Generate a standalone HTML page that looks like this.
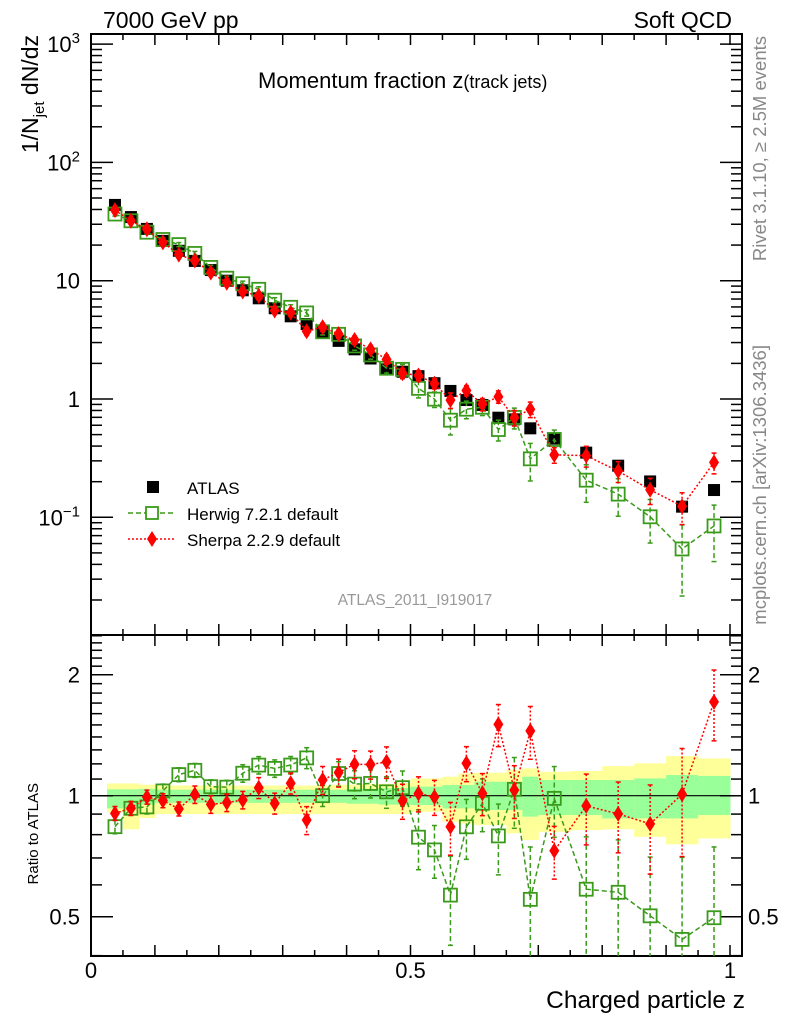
<!DOCTYPE html>
<html><head><meta charset="utf-8"><style>
body{margin:0;background:#fff}
svg text{font-family:"Liberation Sans",Arial,sans-serif}
</style></head><body>
<svg id="c" width="786" height="1024" viewBox="0 0 786 1024" xmlns="http://www.w3.org/2000/svg"></svg>
<script>
const zCenters=[0.0375,0.0625,0.0875,0.1125,0.1375,0.1625,0.1875,0.2125,0.2375,0.2625,0.2875,0.3125,0.3375,0.3625,0.3875,0.4125,0.4375,0.4625,0.4875,0.5125,0.5375,0.5625,0.5875,0.6125,0.6375,0.6625,0.6875,0.725,0.775,0.825,0.875,0.925,0.975];
const zEdges=[0.025,0.05,0.075,0.1,0.125,0.15,0.175,0.2,0.225,0.25,0.275,0.3,0.325,0.35,0.375,0.4,0.425,0.45,0.475,0.5,0.525,0.55,0.575,0.6,0.625,0.65,0.675,0.7,0.75,0.8,0.85,0.9,0.95,1.0];
const atlasVals=[43.7,34.5,27.4,21.7,17.9,14.7,12.3,10.0,8.3,7.1,5.85,5.0,4.3,3.7,3.1,2.63,2.2,1.78,1.70,1.56,1.36,1.17,0.98,0.89,0.695,0.673,0.565,0.462,0.352,0.273,0.201,0.123,0.170];
const herwigVals=[36.6,32.1,25.7,22.3,20.2,17.0,12.95,10.5,9.44,8.46,6.84,5.96,5.34,3.70,3.52,2.81,2.36,1.82,1.78,1.23,0.997,0.662,0.820,0.852,0.552,0.698,0.312,0.455,0.206,0.157,0.101,0.054,0.0845];
const sherpaVals=[39.5,32.1,27.2,21.1,16.6,14.8,11.7,9.61,8.10,7.43,5.60,5.37,3.74,4.05,3.54,3.15,2.63,2.16,1.65,1.58,1.35,0.979,1.18,0.902,1.046,0.695,0.819,0.337,0.332,0.246,0.171,0.124,0.291];
const herwigErr=[0.04,0.04,0.04,0.04,0.04,0.04,0.04,0.04,0.05,0.05,0.05,0.05,0.06,0.06,0.07,0.08,0.08,0.09,0.1,0.17,0.15,0.25,0.17,0.15,0.2,0.2,0.35,0.2,0.35,0.35,0.4,0.6,0.5];
const sherpaErr=[0.04,0.04,0.04,0.04,0.04,0.05,0.05,0.05,0.05,0.06,0.06,0.06,0.08,0.08,0.08,0.08,0.08,0.09,0.1,0.1,0.1,0.15,0.1,0.12,0.12,0.15,0.15,0.15,0.2,0.2,0.25,0.3,0.2];
const yellowHi=[1.073,1.073,1.065,1.06,1.06,1.06,1.06,1.06,1.06,1.06,1.06,1.06,1.06,1.06,1.065,1.065,1.07,1.07,1.075,1.104,1.104,1.115,1.137,1.141,1.141,1.158,1.17,1.147,1.152,1.185,1.204,1.255,1.238];
const yellowLo=[0.91,0.825,0.88,0.9,0.9,0.9,0.9,0.9,0.9,0.9,0.9,0.9,0.9,0.9,0.9,0.9,0.9,0.9,0.9,0.912,0.912,0.862,0.853,0.845,0.845,0.806,0.776,0.813,0.821,0.825,0.79,0.757,0.783];
const greenHi=[1.037,1.037,1.04,1.035,1.035,1.035,1.035,1.035,1.035,1.035,1.035,1.035,1.035,1.035,1.035,1.04,1.04,1.045,1.045,1.053,1.053,1.063,1.063,1.083,1.083,1.083,1.115,1.094,1.094,1.094,1.104,1.126,1.12];
const greenLo=[0.93,0.93,0.95,0.96,0.96,0.96,0.96,0.96,0.96,0.96,0.96,0.96,0.96,0.96,0.96,0.955,0.955,0.95,0.95,0.948,0.948,0.93,0.93,0.921,0.921,0.921,0.887,0.895,0.895,0.878,0.878,0.878,0.895];
const mainTickLabels=[["10","3"],["10","2"],["10",""],["1",""],["10","−1"]];
const ratioTickLabels=["2","1","0.5"];
const xTickLabels=["0","0.5","1"];

const NS="http://www.w3.org/2000/svg";
const svg=document.getElementById('c');
const L=91,R=742,T=34,MB=635,RB=956;
const X=z=>91+z*639;
const Y=v=>399-118.3*Math.log10(v);
const YR=r=>795.7-121*Math.log2(r);
function el(tag,attrs,parent){const e=document.createElementNS(NS,tag);for(const k in attrs)e.setAttribute(k,attrs[k]);(parent||svg).appendChild(e);return e;}
function txt(s,attrs,parent){const e=el('text',attrs,parent);e.textContent=s;return e;}

const gBand=el('g',{});


for(let i=0;i<zCenters.length;i++){
  const x0=X(zEdges[i]),x1=X(zEdges[i+1]);
  const y=el('rect',{x:x0,y:YR(yellowHi[i]),width:x1-x0+0.5,height:YR(yellowLo[i])-YR(yellowHi[i]),fill:'#ffff99'},gBand);
  
  
  const g=el('rect',{x:x0,y:YR(greenHi[i]),width:x1-x0+0.5,height:YR(greenLo[i])-YR(greenHi[i]),fill:'#99ff99'},gBand);
  
  
}
const one=el('line',{x1:L,x2:R,y1:YR(1),y2:YR(1),stroke:'#000','stroke-width':1.2});



const f1=el('rect',{x:L,y:T,width:R-L,height:MB-T,fill:'none',stroke:'#000','stroke-width':2});


const f2=el('rect',{x:L,y:MB,width:R-L,height:RB-MB,fill:'none',stroke:'#000','stroke-width':2});



const gx=el('g',{stroke:'#000','stroke-width':1.5});


for(let k=0;k<=20;k++){const z=k*0.05,x=X(z);if(x>R)break;const len=(k%2==0)?11:6;
  [[T,1],[MB,-1],[MB,1],[RB,-1]].forEach(([y0,d])=>el('line',{x1:x,x2:x,y1:y0,y2:y0+d*len},gx));}
const gy=el('g',{stroke:'#000','stroke-width':1.5});


for(let e=-2;e<=3;e++)for(let m=1;m<=9;m++){const v=m*Math.pow(10,e),y=Y(v);if(y<T||y>MB)continue;const len=m==1?22:11;
  el('line',{x1:L,x2:L+len,y1:y,y2:y},gy);el('line',{x1:R,x2:R-len,y1:y,y2:y},gy);}
[0.4,0.5,0.6,0.7,0.8,0.9,1,1.1,1.2,1.3,1.4,1.5,1.6,1.7,1.8,1.9,2,2.1,2.2,2.3,2.4,2.5].forEach(r=>{const y=YR(r);if(y<MB||y>RB)return;const len=(r==0.5||r==1||r==2)?22:11;
  el('line',{x1:L,x2:L+len,y1:y,y2:y},gy);el('line',{x1:R,x2:R-len,y1:y,y2:y},gy);});

const mainVals=[1000,100,10,1,0.1];
mainTickLabels.forEach((lb,i)=>{const y=Y(mainVals[i]);
  const t=txt('',{x:80,y:y+8,'font-size':22,'text-anchor':'end'});
  
  
  const a=el('tspan',{},t);a.textContent=lb[0];
  if(lb[1]){const b=el('tspan',{'font-size':15,dy:-9},t);b.textContent=lb[1];}
});
const rVals=[2,1,0.5];
ratioTickLabels.forEach((lb,i)=>{const y=YR(rVals[i])+8;
  const a=txt(lb,{x:80,y:y,'font-size':22,'text-anchor':'end'});
  
  
  const b=txt(lb,{x:748,y:y,'font-size':22});
  
  
});
const xVals=[0,0.5,1];
xTickLabels.forEach((lb,i)=>{const t=txt(lb,{x:X(xVals[i]),y:978,'font-size':22,'text-anchor':'middle'});
  
  });

function series(vals,errs,color,dash,kind,Yf,ratio,name){
  const g=el('g',{});
  
  
  const pts=vals.map((v,i)=>{const val=ratio?v/atlasVals[i]:v;return [X(zCenters[i]),Yf(val),val];});
  el('polyline',{points:pts.map(p=>p[0]+','+p[1]).join(' '),fill:'none',stroke:color,'stroke-width':1.5,'stroke-dasharray':dash},g);
  pts.forEach((p,i)=>{
    const up=Yf(p[2]*(1+errs[i])),dn=Yf(Math.max(p[2]*(1-errs[i]),1e-4));
    const dnc=Math.min(dn,ratio?RB:MB);
    el('line',{x1:p[0],x2:p[0],y1:up,y2:dnc,stroke:color,'stroke-width':1.5,'stroke-dasharray':dash},g);
    el('line',{x1:p[0]-2.5,x2:p[0]+2.5,y1:up,y2:up,stroke:color,'stroke-width':1.5},g);
    if(dn<(ratio?RB:MB))el('line',{x1:p[0]-2.5,x2:p[0]+2.5,y1:dn,y2:dn,stroke:color,'stroke-width':1.5},g);
    let m;
    if(kind=='sq'){m=el('rect',{x:p[0]-6.5,y:p[1]-6.5,width:13,height:13,fill:'none',stroke:color,'stroke-width':1.8},g);}
    else{m=el('polygon',{points:`${p[0]},${p[1]-8} ${p[0]+5},${p[1]} ${p[0]},${p[1]+8} ${p[0]-5},${p[1]}`,fill:color},g);}
    
    
  });
}
const ga=el('g',{});


atlasVals.forEach((v,i)=>{const m=el('rect',{x:X(zCenters[i])-6,y:Y(v)-6,width:12,height:12,fill:'#000'},ga);
  
  });
series(herwigVals,herwigErr,'#3a9a1a','5,3','sq',Y,false,'herwig-series');
series(sherpaVals,sherpaErr,'#ff0000','2,2','dia',Y,false,'sherpa-series');
series(herwigVals,herwigErr,'#3a9a1a','5,3','sq',YR,true,'herwig-ratio-series');
series(sherpaVals,sherpaErr,'#ff0000','2,2','dia',YR,true,'sherpa-ratio-series');

const lg=el('g',{});


el('rect',{x:147,y:481,width:12,height:12,fill:'#000'},lg);
txt('ATLAS',{x:187,y:494,'font-size':17},lg);
el('line',{x1:128,x2:176,y1:513,y2:513,stroke:'#3a9a1a','stroke-width':1.5,'stroke-dasharray':'5,3'},lg);
el('rect',{x:146,y:507,width:12,height:12,fill:'#fff',stroke:'#3a9a1a','stroke-width':1.8},lg);
txt('Herwig 7.2.1 default',{x:187,y:520,'font-size':17},lg);
el('line',{x1:128,x2:176,y1:539,y2:539,stroke:'#ff0000','stroke-width':1.5,'stroke-dasharray':'2,2'},lg);
el('polygon',{points:'152,531 157,539 152,547 147,539',fill:'#ff0000'},lg);
txt('Sherpa 2.2.9 default',{x:187,y:546,'font-size':17},lg);

function T2(s,a,name){const t=txt(s,a);return t;}
T2('7000 GeV pp',{x:103,y:28,'font-size':23},'energy-label');
T2('Soft QCD',{x:732,y:28,'font-size':23,'text-anchor':'end'},'process-label');
const tt=T2('',{x:258,y:88,'font-size':22},'plot-title');
{const a=el('tspan',{},tt);a.textContent='Momentum fraction z';const b=el('tspan',{'font-size':18},tt);b.textContent='(track jets)';}
T2('ATLAS_2011_I919017',{x:415,y:605,'font-size':15.5,fill:'#999','text-anchor':'middle'},'analysis-id');
T2('Charged particle z',{x:745,y:1008,'font-size':24.5,'text-anchor':'end'},'x-axis-title');
T2('Rivet 3.1.10, \u2265 2.5M events',{x:0,y:0,'font-size':18.5,fill:'#888','text-anchor':'end',transform:'translate(766,36) rotate(-90)'},'rivet-info');
T2('mcplots.cern.ch [arXiv:1306.3436]',{x:0,y:0,'font-size':18.5,fill:'#888','text-anchor':'end',transform:'translate(766,345) rotate(-90)'},'mcplots-info');
T2('Ratio to ATLAS',{x:0,y:0,'font-size':15,'text-anchor':'end',transform:'translate(38,783) rotate(-90)'},'ratio-axis-title');
const yt=T2('',{x:0,y:0,'font-size':23,'text-anchor':'end',transform:'translate(38,35) rotate(-90)'},'y-axis-title');
{const a=el('tspan',{},yt);a.textContent='1/N';const b=el('tspan',{'font-size':15,dy:6},yt);b.textContent='jet';const c=el('tspan',{dy:-6},yt);c.textContent=' dN/dz';}
</script>
</body></html>
